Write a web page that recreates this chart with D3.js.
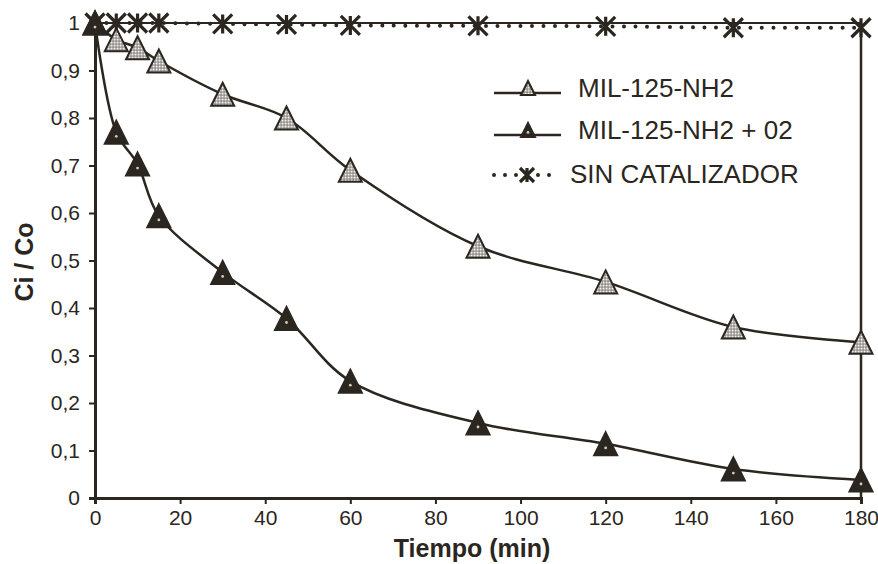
<!DOCTYPE html>
<html><head><meta charset="utf-8">
<script src="https://cdn.jsdelivr.net/npm/d3@7"></script>
<style>body{margin:0;background:#fff}svg{display:block}text{font-family:"Liberation Sans",Arial,sans-serif;fill:#2b2620}</style>
</head><body><svg id="c" width="878" height="564"></svg>
<script>
const times = [0,5,10,15,30,45,60,90,120,150,180];
const milNH2 = [1.0,0.965,0.948,0.92,0.85,0.80,0.69,0.53,0.455,0.36,0.328];
const milNH2O2 = [1.0,0.77,0.703,0.594,0.475,0.378,0.246,0.158,0.114,0.061,0.038];
const sinCat = [1.0,1.0,1.0,1.0,0.998,0.997,0.995,0.994,0.993,0.99,0.99];
const xTicks = [0,20,40,60,80,100,120,140,160,180];
const yTicks = [0,0.1,0.2,0.3,0.4,0.5,0.6,0.7,0.8,0.9,1];
const seriesNames = ["MIL-125-NH2","MIL-125-NH2 + 02","SIN CATALIZADOR"];

const ink = "#2b2620";
const svg = d3.select("#c");
const x = d3.scaleLinear().domain([0,180]).range([95,861]);
const y = d3.scaleLinear().domain([0,1]).range([498,23]);

const defs = svg.append("defs");
const pat = defs.append("pattern").attr("id","chk").attr("patternUnits","userSpaceOnUse").attr("width",3).attr("height",3);
pat.append("rect").attr("width",3).attr("height",3).attr("fill","#b9b6b2");
pat.append("rect").attr("width",1.2).attr("height",1.2).attr("fill","#f2f0ee");
pat.append("rect").attr("x",1.5).attr("y",1.5).attr("width",1.2).attr("height",1.2).attr("fill","#6f6b66");

// frame top/right
svg.append("line").attr("x1",x(0)).attr("x2",x(180)).attr("y1",y(1)).attr("y2",y(1)).attr("stroke",ink).attr("stroke-width",2);
svg.append("line").attr("x1",x(180)).attr("x2",x(180)).attr("y1",y(1)).attr("y2",y(0)).attr("stroke",ink).attr("stroke-width",2.5);

// axes
const gx = svg.append("g").attr("transform",`translate(0,${y(0)})`)
  .call(d3.axisBottom(x).tickValues(xTicks).tickSize(6).tickPadding(6).tickFormat(d3.format("d")));
const gy = svg.append("g").attr("transform",`translate(${x(0)},0)`)
  .call(d3.axisLeft(y).tickValues(yTicks).tickSize(6).tickPadding(9).tickFormat(d=>d===0?"0":d===1?"1":String(d).replace(".",",")));
[gx,gy].forEach(g=>{
  g.attr("font-size",21).attr("font-family",'"Liberation Sans",Arial,sans-serif');
  g.select(".domain").attr("stroke",ink).attr("stroke-width",3);
  g.selectAll(".tick line").attr("stroke",ink).attr("stroke-width",2);
  g.selectAll(".tick text").attr("fill",ink);
});

svg.append("text").attr("x",472).attr("y",557).attr("text-anchor","middle").attr("font-size",25).attr("font-weight","bold").text("Tiempo (min)");
svg.append("text").attr("transform","translate(33,262) rotate(-90)").attr("text-anchor","middle").attr("font-size",25).attr("font-weight","bold").text("Ci / Co");

const line = d3.line().x(d=>x(d[0])).y(d=>y(d[1])).curve(d3.curveCatmullRom.alpha(0.5));

// sin catalizador dotted
svg.append("path").datum(times.map((t,i)=>[t,sinCat[i]])).attr("d",line).attr("fill","none")
  .attr("stroke",ink).attr("stroke-width",4).attr("stroke-linecap","round").attr("stroke-dasharray","0,11.5");
svg.append("path").datum(times.map((t,i)=>[t,milNH2[i]])).attr("d",line).attr("fill","none").attr("stroke",ink).attr("stroke-width",2.5);
svg.append("path").datum(times.map((t,i)=>[t,milNH2O2[i]])).attr("d",line).attr("fill","none").attr("stroke",ink).attr("stroke-width",2.5);

function tri(g,cx,cy,fill,dot,s){
  g.append("path").attr("d",`M${cx},${cy-s}L${cx+s},${cy+s}L${cx-s},${cy+s}Z`)
   .attr("fill",fill).attr("stroke",ink).attr("stroke-width",2).attr("stroke-linejoin","miter");
  if(dot) g.append("circle").attr("cx",cx).attr("cy",cy+s*0.35).attr("r",1.4).attr("fill","#cfcac3");
}
function star(g,cx,cy,r){
  g.append("path").attr("d",`M${cx-r},${cy-r}L${cx+r},${cy+r}M${cx+r},${cy-r}L${cx-r},${cy+r}M${cx},${cy-r}L${cx},${cy+r}`)
   .attr("stroke",ink).attr("stroke-width",3.2).attr("fill","none");
}
const mk = svg.append("g");
times.forEach((t,i)=>star(mk,x(t),y(sinCat[i]),9.5));
times.forEach((t,i)=>tri(mk,x(t),y(milNH2[i]),"url(#chk)",false,11.5));
times.forEach((t,i)=>tri(mk,x(t),y(milNH2O2[i]),ink,true,11.5));

// legend
const lg = svg.append("g");
const rows=[93,135,175];
lg.append("line").attr("x1",494).attr("x2",561).attr("y1",rows[0]).attr("y2",rows[0]).attr("stroke",ink).attr("stroke-width",2.5);
tri(lg,528,rows[0]-5,"url(#chk)",false,7);
lg.append("line").attr("x1",494).attr("x2",561).attr("y1",rows[1]).attr("y2",rows[1]).attr("stroke",ink).attr("stroke-width",2.5);
tri(lg,528,rows[1]-5,ink,true,7);
lg.append("line").attr("x1",494).attr("x2",560).attr("y1",rows[2]).attr("y2",rows[2]).attr("stroke",ink).attr("stroke-width",4).attr("stroke-linecap","round").attr("stroke-dasharray","0,11");
star(lg,527,rows[2],7);
seriesNames.forEach((n,i)=>lg.append("text").attr("x",i==2?570:578).attr("y",rows[i]+(i==2?8:4)).attr("font-size",26).text(n));
</script></body></html>
